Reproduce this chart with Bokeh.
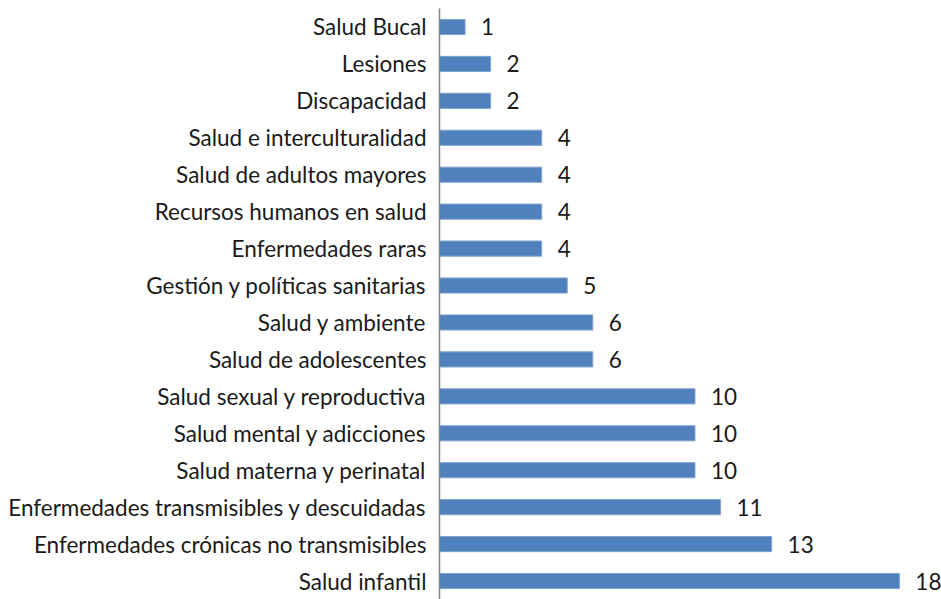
from bokeh.plotting import figure
from bokeh.models import ColumnDataSource, FactorRange, Range1d, LabelSet
from bokeh.core.properties import value
from bokeh.embed import file_html
from bokeh.resources import INLINE

categories = [
    "Salud Bucal", "Lesiones", "Discapacidad", "Salud e interculturalidad",
    "Salud de adultos mayores", "Recursos humanos en salud", "Enfermedades raras",
    "Gestión y políticas sanitarias", "Salud y ambiente", "Salud de adolescentes",
    "Salud sexual y reproductiva", "Salud mental y adicciones",
    "Salud materna y perinatal", "Enfermedades transmisibles y descuidadas",
    "Enfermedades crónicas no transmisibles", "Salud infantil",
]
values = [1, 2, 2, 4, 4, 4, 4, 5, 6, 6, 10, 10, 10, 11, 13, 18]

FONT = "Lato"
FSIZE = "22.5px"

source = ColumnDataSource(dict(cat=categories, val=values, lbl=[str(v) for v in values]))

p = figure(
    width=941, height=599,
    y_range=FactorRange(factors=categories[::-1], range_padding=0),
    x_range=Range1d(0, 19.65),
    output_backend="svg", toolbar_location=None,
    min_border_left=439, min_border_right=0, min_border_top=8, min_border_bottom=0,
)
p.hbar(y="cat", right="val", left=0, height=0.41, source=source,
       fill_color="#4f81bd", line_color="#7fa3d0", line_width=1)

labels = LabelSet(x="val", y="cat", text="lbl", source=source, x_offset=16,
                  text_baseline="middle", text_align="left",
                  text_font=value(FONT), text_font_size=value(FSIZE),
                  text_color="#1a1a1a")
p.add_layout(labels)

p.xaxis.visible = False
p.xgrid.visible = False
p.ygrid.visible = False
p.outline_line_color = None

ax = p.yaxis[0]
ax.axis_line_color = "#868686"
ax.axis_line_width = 1.5
ax.major_tick_line_color = None
ax.minor_tick_line_color = None
ax.major_label_standoff = 7
ax.major_label_text_font = FONT
ax.major_label_text_font_size = FSIZE
ax.major_label_text_color = "#1a1a1a"

open("out.html", "w").write(file_html(p, INLINE))
